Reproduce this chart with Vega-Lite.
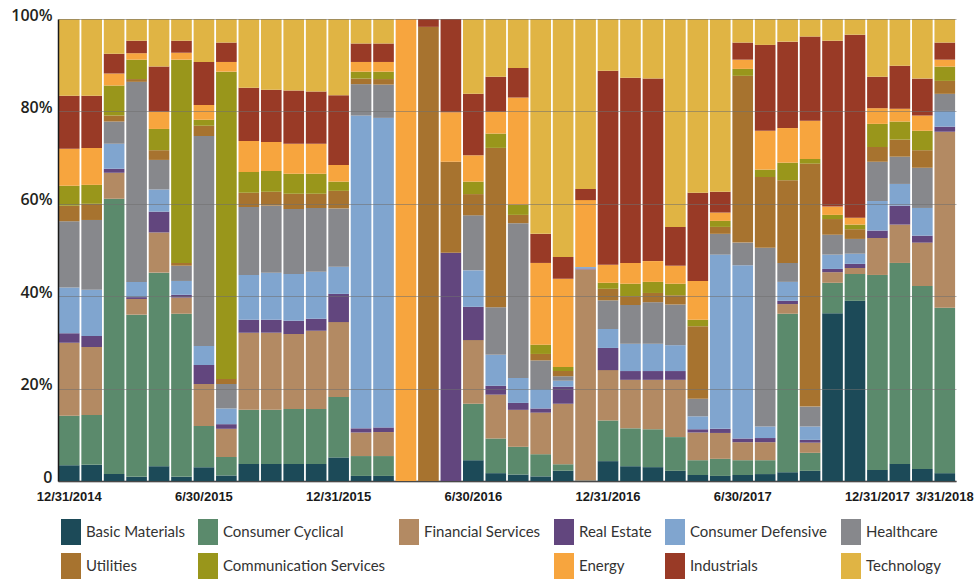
{
  "$schema": "https://vega.github.io/schema/vega-lite/v6.json",
  "autosize": {"type": "none"},
  "width": 898,
  "height": 462,
  "padding": {"left": 58, "top": 19, "right": 20, "bottom": 102},
  "background": "#ffffff",
  "data": {
    "values": [
      {"date": "12/31/2014", "Basic Materials": 3.4, "Consumer Cyclical": 10.7, "Financial Services": 15.8, "Real Estate": 2.1, "Consumer Defensive": 9.9, "Healthcare": 14.3, "Utilities": 3.4, "Communication Services": 4.3, "Energy": 8.0, "Industrials": 11.5, "Technology": 16.6},
      {"date": "1/31/2015", "Basic Materials": 3.5, "Consumer Cyclical": 10.8, "Financial Services": 14.7, "Real Estate": 2.4, "Consumer Defensive": 10.0, "Healthcare": 15.1, "Utilities": 3.5, "Communication Services": 4.1, "Energy": 8.0, "Industrials": 11.3, "Technology": 16.6},
      {"date": "2/28/2015", "Basic Materials": 1.5, "Consumer Cyclical": 59.6, "Financial Services": 5.6, "Real Estate": 0.9, "Consumer Defensive": 5.4, "Healthcare": 4.8, "Utilities": 1.3, "Communication Services": 6.5, "Energy": 2.6, "Industrials": 4.3, "Technology": 7.5},
      {"date": "3/31/2015", "Basic Materials": 0.9, "Consumer Cyclical": 35.1, "Financial Services": 3.4, "Real Estate": 0.4, "Consumer Defensive": 3.3, "Healthcare": 43.3, "Utilities": 0.6, "Communication Services": 4.2, "Energy": 1.4, "Industrials": 2.7, "Technology": 4.7},
      {"date": "4/30/2015", "Basic Materials": 3.2, "Consumer Cyclical": 41.9, "Financial Services": 8.7, "Real Estate": 4.5, "Consumer Defensive": 4.8, "Healthcare": 6.4, "Utilities": 2.1, "Communication Services": 4.6, "Energy": 3.7, "Industrials": 9.8, "Technology": 10.3},
      {"date": "5/31/2015", "Basic Materials": 0.9, "Consumer Cyclical": 35.3, "Financial Services": 3.5, "Real Estate": 0.6, "Consumer Defensive": 3.0, "Healthcare": 3.3, "Utilities": 0.6, "Communication Services": 44.0, "Energy": 1.5, "Industrials": 2.6, "Technology": 4.7},
      {"date": "6/30/2015", "Basic Materials": 3.0, "Consumer Cyclical": 8.9, "Financial Services": 9.1, "Real Estate": 4.1, "Consumer Defensive": 4.1, "Healthcare": 45.5, "Utilities": 2.2, "Communication Services": 1.3, "Energy": 3.2, "Industrials": 9.3, "Technology": 9.3},
      {"date": "7/31/2015", "Basic Materials": 1.2, "Consumer Cyclical": 4.0, "Financial Services": 6.1, "Real Estate": 1.0, "Consumer Defensive": 3.4, "Healthcare": 5.3, "Utilities": 1.1, "Communication Services": 66.5, "Energy": 2.1, "Industrials": 4.2, "Technology": 5.1},
      {"date": "8/31/2015", "Basic Materials": 3.7, "Consumer Cyclical": 11.7, "Financial Services": 16.7, "Real Estate": 2.8, "Consumer Defensive": 9.7, "Healthcare": 14.7, "Utilities": 3.1, "Communication Services": 4.5, "Energy": 6.7, "Industrials": 11.5, "Technology": 14.9},
      {"date": "9/30/2015", "Basic Materials": 3.7, "Consumer Cyclical": 11.7, "Financial Services": 16.7, "Real Estate": 2.8, "Consumer Defensive": 10.2, "Healthcare": 14.5, "Utilities": 3.0, "Communication Services": 4.5, "Energy": 6.3, "Industrials": 11.3, "Technology": 15.3},
      {"date": "10/31/2015", "Basic Materials": 3.7, "Consumer Cyclical": 11.9, "Financial Services": 16.2, "Real Estate": 2.9, "Consumer Defensive": 10.1, "Healthcare": 14.1, "Utilities": 3.3, "Communication Services": 4.3, "Energy": 6.5, "Industrials": 11.5, "Technology": 15.5},
      {"date": "11/30/2015", "Basic Materials": 3.7, "Consumer Cyclical": 11.9, "Financial Services": 16.9, "Real Estate": 2.6, "Consumer Defensive": 10.2, "Healthcare": 13.8, "Utilities": 3.1, "Communication Services": 4.3, "Energy": 6.5, "Industrials": 11.3, "Technology": 15.7},
      {"date": "12/31/2015", "Basic Materials": 5.1, "Consumer Cyclical": 13.1, "Financial Services": 16.2, "Real Estate": 6.1, "Consumer Defensive": 5.9, "Healthcare": 12.6, "Utilities": 3.8, "Communication Services": 2.0, "Energy": 3.6, "Industrials": 15.1, "Technology": 16.5},
      {"date": "1/31/2016", "Basic Materials": 1.1, "Consumer Cyclical": 4.3, "Financial Services": 5.1, "Real Estate": 0.9, "Consumer Defensive": 67.7, "Healthcare": 6.8, "Utilities": 1.2, "Communication Services": 1.5, "Energy": 2.1, "Industrials": 4.0, "Technology": 5.3},
      {"date": "2/29/2016", "Basic Materials": 1.1, "Consumer Cyclical": 4.3, "Financial Services": 5.2, "Real Estate": 1.0, "Consumer Defensive": 67.0, "Healthcare": 7.2, "Utilities": 1.2, "Communication Services": 1.6, "Energy": 2.1, "Industrials": 4.0, "Technology": 5.3},
      {"date": "3/31/2016", "Basic Materials": 0, "Consumer Cyclical": 0, "Financial Services": 0, "Real Estate": 0, "Consumer Defensive": 0, "Healthcare": 0, "Utilities": 0, "Communication Services": 0, "Energy": 100, "Industrials": 0, "Technology": 0},
      {"date": "4/30/2016", "Basic Materials": 0, "Consumer Cyclical": 0, "Financial Services": 0, "Real Estate": 0, "Consumer Defensive": 0, "Healthcare": 0, "Utilities": 98.3, "Communication Services": 0, "Energy": 0, "Industrials": 1.7, "Technology": 0},
      {"date": "5/31/2016", "Basic Materials": 0, "Consumer Cyclical": 0, "Financial Services": 0, "Real Estate": 49.4, "Consumer Defensive": 0, "Healthcare": 0, "Utilities": 19.7, "Communication Services": 0, "Energy": 10.7, "Industrials": 20.2, "Technology": 0},
      {"date": "6/30/2016", "Basic Materials": 4.5, "Consumer Cyclical": 12.2, "Financial Services": 13.8, "Real Estate": 7.2, "Consumer Defensive": 7.9, "Healthcare": 11.9, "Utilities": 4.6, "Communication Services": 2.7, "Energy": 5.7, "Industrials": 13.3, "Technology": 16.2},
      {"date": "7/31/2016", "Basic Materials": 1.7, "Consumer Cyclical": 7.5, "Financial Services": 9.5, "Real Estate": 1.9, "Consumer Defensive": 6.7, "Healthcare": 10.3, "Utilities": 34.5, "Communication Services": 3.1, "Energy": 4.7, "Industrials": 7.6, "Technology": 12.5},
      {"date": "8/31/2016", "Basic Materials": 1.4, "Consumer Cyclical": 6.0, "Financial Services": 8.0, "Real Estate": 1.5, "Consumer Defensive": 5.4, "Healthcare": 33.5, "Utilities": 1.8, "Communication Services": 2.2, "Energy": 23.2, "Industrials": 6.4, "Technology": 10.6},
      {"date": "9/30/2016", "Basic Materials": 1.0, "Consumer Cyclical": 4.8, "Financial Services": 9.0, "Real Estate": 0.9, "Consumer Defensive": 4.2, "Healthcare": 6.2, "Utilities": 1.4, "Communication Services": 2.0, "Energy": 17.7, "Industrials": 6.3, "Technology": 46.5},
      {"date": "10/31/2016", "Basic Materials": 2.2, "Consumer Cyclical": 1.4, "Financial Services": 13.1, "Real Estate": 3.7, "Consumer Defensive": 1.3, "Healthcare": 1.0, "Utilities": 1.1, "Communication Services": 0.9, "Energy": 19.1, "Industrials": 4.7, "Technology": 51.5},
      {"date": "11/30/2016", "Basic Materials": 0.1, "Consumer Cyclical": 0, "Financial Services": 45.7, "Real Estate": 0.2, "Consumer Defensive": 0.3, "Healthcare": 0, "Utilities": 0, "Communication Services": 0, "Energy": 14.5, "Industrials": 2.4, "Technology": 36.8},
      {"date": "12/31/2016", "Basic Materials": 4.3, "Consumer Cyclical": 8.8, "Financial Services": 10.9, "Real Estate": 4.8, "Consumer Defensive": 4.1, "Healthcare": 6.2, "Utilities": 2.5, "Communication Services": 1.3, "Energy": 3.9, "Industrials": 42.0, "Technology": 11.2},
      {"date": "1/31/2017", "Basic Materials": 3.2, "Consumer Cyclical": 8.2, "Financial Services": 10.5, "Real Estate": 1.9, "Consumer Defensive": 5.9, "Healthcare": 8.4, "Utilities": 1.9, "Communication Services": 2.7, "Energy": 4.5, "Industrials": 40.1, "Technology": 12.7},
      {"date": "2/28/2017", "Basic Materials": 3.0, "Consumer Cyclical": 8.2, "Financial Services": 10.7, "Real Estate": 1.9, "Consumer Defensive": 5.9, "Healthcare": 9.0, "Utilities": 2.0, "Communication Services": 2.4, "Energy": 4.5, "Industrials": 39.5, "Technology": 12.9},
      {"date": "3/31/2017", "Basic Materials": 2.2, "Consumer Cyclical": 7.3, "Financial Services": 12.4, "Real Estate": 1.9, "Consumer Defensive": 5.6, "Healthcare": 8.8, "Utilities": 2.0, "Communication Services": 2.5, "Energy": 3.9, "Industrials": 8.4, "Technology": 45.0},
      {"date": "4/30/2017", "Basic Materials": 1.3, "Consumer Cyclical": 3.2, "Financial Services": 6.0, "Real Estate": 0.7, "Consumer Defensive": 2.8, "Healthcare": 3.8, "Utilities": 15.7, "Communication Services": 1.4, "Energy": 8.4, "Industrials": 19.1, "Technology": 37.6},
      {"date": "5/31/2017", "Basic Materials": 1.1, "Consumer Cyclical": 3.7, "Financial Services": 5.6, "Real Estate": 0.9, "Consumer Defensive": 37.7, "Healthcare": 4.5, "Utilities": 1.5, "Communication Services": 1.3, "Energy": 1.8, "Industrials": 4.5, "Technology": 37.4},
      {"date": "6/30/2017", "Basic Materials": 1.3, "Consumer Cyclical": 3.2, "Financial Services": 3.9, "Real Estate": 0.8, "Consumer Defensive": 37.5, "Healthcare": 4.9, "Utilities": 36.1, "Communication Services": 1.5, "Energy": 2.0, "Industrials": 3.7, "Technology": 5.1},
      {"date": "7/31/2017", "Basic Materials": 1.5, "Consumer Cyclical": 3.0, "Financial Services": 3.9, "Real Estate": 0.9, "Consumer Defensive": 2.5, "Healthcare": 38.7, "Utilities": 15.3, "Communication Services": 1.6, "Energy": 8.4, "Industrials": 18.6, "Technology": 5.6},
      {"date": "8/31/2017", "Basic Materials": 1.9, "Consumer Cyclical": 34.3, "Financial Services": 2.1, "Real Estate": 0.7, "Consumer Defensive": 4.1, "Healthcare": 4.1, "Utilities": 17.9, "Communication Services": 3.8, "Energy": 7.5, "Industrials": 18.7, "Technology": 4.9},
      {"date": "9/30/2017", "Basic Materials": 2.2, "Consumer Cyclical": 3.9, "Financial Services": 2.2, "Real Estate": 0.6, "Consumer Defensive": 2.9, "Healthcare": 4.3, "Utilities": 52.6, "Communication Services": 1.0, "Energy": 8.3, "Industrials": 18.2, "Technology": 3.8},
      {"date": "10/31/2017", "Basic Materials": 36.3, "Consumer Cyclical": 6.6, "Financial Services": 2.3, "Real Estate": 0.7, "Consumer Defensive": 3.1, "Healthcare": 4.3, "Utilities": 3.4, "Communication Services": 0.9, "Energy": 1.8, "Industrials": 35.9, "Technology": 4.7},
      {"date": "11/30/2017", "Basic Materials": 39.0, "Consumer Cyclical": 5.8, "Financial Services": 1.3, "Real Estate": 0.9, "Consumer Defensive": 2.2, "Healthcare": 3.2, "Utilities": 2.1, "Communication Services": 1.0, "Energy": 1.5, "Industrials": 39.6, "Technology": 3.4},
      {"date": "12/31/2017", "Basic Materials": 2.4, "Consumer Cyclical": 42.2, "Financial Services": 8.0, "Real Estate": 1.6, "Consumer Defensive": 6.4, "Healthcare": 8.5, "Utilities": 3.2, "Communication Services": 5.0, "Energy": 3.4, "Industrials": 6.8, "Technology": 12.5},
      {"date": "1/31/2018", "Basic Materials": 3.7, "Consumer Cyclical": 43.5, "Financial Services": 8.3, "Real Estate": 4.1, "Consumer Defensive": 4.7, "Healthcare": 5.9, "Utilities": 3.7, "Communication Services": 3.9, "Energy": 2.8, "Industrials": 9.3, "Technology": 10.1},
      {"date": "2/28/2018", "Basic Materials": 2.6, "Consumer Cyclical": 39.6, "Financial Services": 9.4, "Real Estate": 1.5, "Consumer Defensive": 6.0, "Healthcare": 8.7, "Utilities": 3.8, "Communication Services": 4.2, "Energy": 3.3, "Industrials": 8.0, "Technology": 12.9},
      {"date": "3/31/2018", "Basic Materials": 1.7, "Consumer Cyclical": 35.8, "Financial Services": 38.1, "Real Estate": 1.1, "Consumer Defensive": 3.4, "Healthcare": 3.7, "Utilities": 2.8, "Communication Services": 3.1, "Energy": 1.5, "Industrials": 3.7, "Technology": 5.1}
    ]
  },
  "transform": [
    {"fold": ["Basic Materials", "Consumer Cyclical", "Financial Services", "Real Estate", "Consumer Defensive", "Healthcare", "Utilities", "Communication Services", "Energy", "Industrials", "Technology"], "as": ["sector", "share"]},
    {"calculate": "indexof(['Basic Materials','Consumer Cyclical','Financial Services','Real Estate','Consumer Defensive','Healthcare','Utilities','Communication Services','Energy','Industrials','Technology'], datum.sector)", "as": "stackOrder"}
  ],
  "mark": {"type": "bar"},
  "encoding": {
    "x": {
      "field": "date",
      "type": "ordinal",
      "sort": null,
      "scale": {"paddingInner": 0.08, "paddingOuter": 0.04},
      "axis": {
        "title": null,
        "values": ["12/31/2014", "6/30/2015", "12/31/2015", "6/30/2016", "12/31/2016", "6/30/2017", "12/31/2017", "3/31/2018"],
        "labelAngle": 0,
        "ticks": false,
        "labelPadding": 9,
        "labelFont": "Liberation Sans",
        "labelFontWeight": "bold",
        "labelFontSize": 13,
        "labelColor": "#1a1a1a",
        "domainColor": "#1a1a1a",
        "domainWidth": 1.5,
        "grid": false
      }
    },
    "y": {
      "field": "share",
      "type": "quantitative",
      "stack": "normalize",
      "scale": {"domain": [0, 1], "nice": false},
      "axis": {
        "title": null,
        "values": [0, 0.2, 0.4, 0.6, 0.8, 1],
        "labelExpr": "datum.value === 0 ? '0' : format(datum.value, '.0%')",
        "ticks": false,
        "labelPadding": 6,
        "labelOffset": -4,
        "labelFont": "Open Sans",
        "labelFontWeight": 600,
        "labelFontSize": 16,
        "labelColor": "#231f20",
        "domainColor": "#1a1a1a",
        "domainWidth": 1.5,
        "grid": true,
        "gridColor": "#6f6f6f",
        "gridOpacity": 0.55,
        "gridWidth": 1.2,
        "zindex": 1
      }
    },
    "order": {"field": "stackOrder", "type": "quantitative", "sort": "ascending"},
    "color": {
      "field": "sector",
      "type": "nominal",
      "scale": {
        "domain": ["Basic Materials", "Consumer Cyclical", "Financial Services", "Real Estate", "Consumer Defensive", "Healthcare", "Utilities", "Communication Services", " ", "Energy", "Industrials", "Technology"],
        "range": ["#1c4a58", "#5b8a6c", "#b38a63", "#62467e", "#80a5cf", "#87888c", "#a7732f", "#99961b", "rgba(255,255,255,0)", "#f7a53e", "#993a26", "#e0b444"]
      },
      "legend": {
        "title": null,
        "orient": "bottom",
        "direction": "horizontal",
        "columns": 6,
        "offset": 16,
        "symbolType": "M-0.77,-1H0.77V1H-0.77Z",
        "symbolSize": 676,
        "symbolStrokeWidth": 0,
        "symbolOpacity": 1,
        "labelFont": "Lato",
        "labelFontSize": 15,
        "labelColor": "#333333",
        "labelOffset": 2,
        "labelLimit": 300,
        "rowPadding": 8,
        "columnPadding": 10
      }
    }
  },
  "config": {
    "view": {"stroke": null}
  }
}
